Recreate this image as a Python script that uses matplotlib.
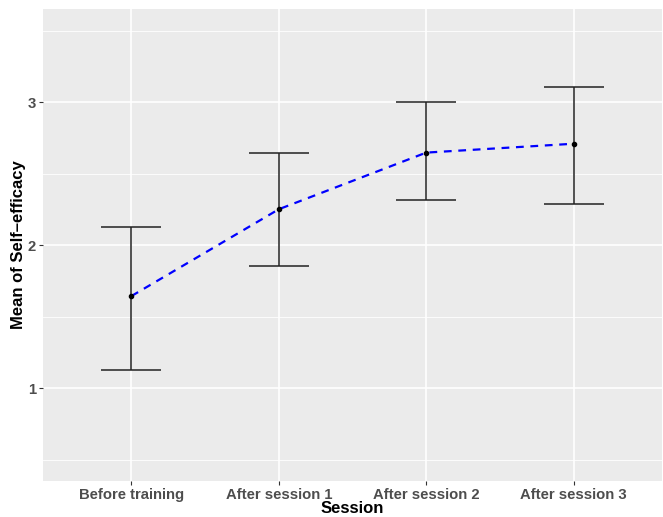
import matplotlib
matplotlib.use("Agg")
import matplotlib.pyplot as plt
from matplotlib.ticker import FixedLocator

# values
sessions = ["Before training", "After session 1", "After session 2", "After session 3"]
means = [1.645, 2.252, 2.648, 2.710]
upper = [2.126, 2.645, 3.000, 3.107]
lower = [1.126, 1.853, 2.315, 2.291]

y_ticks = [1, 2, 3]
y_minor = [0.5, 1.5, 2.5, 3.5]

plt.rcParams['font.family'] = ['Liberation Sans', 'DejaVu Sans']

fig = plt.figure(figsize=(6.63, 5.17), dpi=100)
ax = fig.add_axes([43 / 663, 36 / 517, 619 / 663, 472 / 517])
ax.set_facecolor('#EBEBEB')

x = list(range(1, len(sessions) + 1))

# grid like ggplot's theme_grey
for v in y_minor:
    ax.axhline(v, color='white', lw=0.6, zorder=0)
for v in y_ticks:
    ax.axhline(v, color='white', lw=1.2, zorder=0)
for v in x:
    ax.axvline(v, color='white', lw=1.2, zorder=0)

# error bars
ax.errorbar(x, means, yerr=[[m - l for m, l in zip(means, lower)],
                            [u - m for m, u in zip(means, upper)]],
            fmt='none', ecolor='#222222', elinewidth=1.1, capsize=21.4,
            capthick=1.1, zorder=2)

# mean line and points
ax.plot(x, means, color='blue', lw=1.6, linestyle=(0, (3.5, 3)), zorder=3)
ax.plot(x, means, 'o', color='black', markersize=3, zorder=4)

ax.set_xlim(0.4, 4.6)
ax.set_ylim(0.352, 3.652)
ax.set_xticks(x)
ax.set_xticklabels(sessions)
ax.yaxis.set_major_locator(FixedLocator(y_ticks))
ax.set_yticklabels([str(t) for t in y_ticks])

for s in ax.spines.values():
    s.set_visible(False)

ax.tick_params(axis='both', length=3, width=0.8, color='#333333',
               labelcolor='#4D4D4D', labelsize=10.7, pad=2)
for lab in ax.get_xticklabels() + ax.get_yticklabels():
    lab.set_fontweight('bold')

ax.set_xlabel('Session', fontsize=12, fontweight='bold', labelpad=-1)
ax.set_ylabel('Mean of Self\u2013efficacy', fontsize=12, fontweight='bold', labelpad=1)

fig.savefig('out.png', dpi=100, facecolor='white')
